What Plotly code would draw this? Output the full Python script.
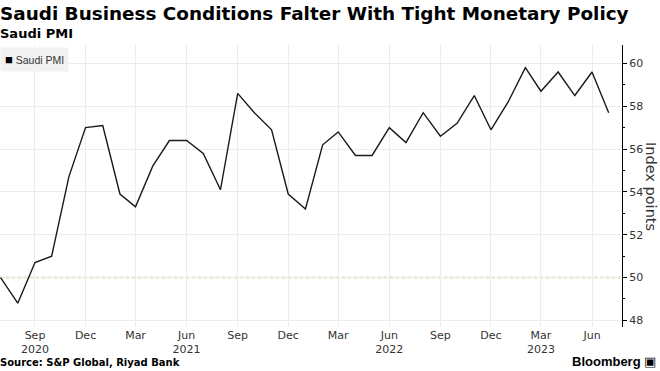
import plotly.graph_objects as go

months = ["2020-07", "2020-08", "2020-09", "2020-10", "2020-11", "2020-12",
          "2021-01", "2021-02", "2021-03", "2021-04", "2021-05", "2021-06",
          "2021-07", "2021-08", "2021-09", "2021-10", "2021-11", "2021-12",
          "2022-01", "2022-02", "2022-03", "2022-04", "2022-05", "2022-06",
          "2022-07", "2022-08", "2022-09", "2022-10", "2022-11", "2022-12",
          "2023-01", "2023-02", "2023-03", "2023-04", "2023-05", "2023-06",
          "2023-07"]
pmi = [50.0, 48.8, 50.7, 51.0, 54.7, 57.0,
       57.1, 53.9, 53.3, 55.2, 56.4, 56.4,
       55.8, 54.1, 58.6, 57.7, 56.9, 53.9,
       53.2, 56.2, 56.8, 55.7, 55.7, 57.0,
       56.3, 57.7, 56.6, 57.2, 58.5, 56.9,
       58.2, 59.8, 58.7, 59.6, 58.5, 59.6,
       57.7]
tick_dates = ["2020-09-01", "2020-12-01", "2021-03-01", "2021-06-01", "2021-09-01",
              "2021-12-01", "2022-03-01", "2022-06-01", "2022-09-01", "2022-12-01",
              "2023-03-01", "2023-06-01"]
tick_labels = ["Sep<br>2020", "Dec", "Mar", "Jun<br>2021", "Sep", "Dec", "Mar",
               "Jun<br>2022", "Sep", "Dec", "Mar<br>2023", "Jun"]
y_ticks = [48, 50, 52, 54, 56, 58, 60]
threshold = 50

x = [m + "-01" for m in months]

fig = go.Figure()
fig.add_trace(go.Scatter(x=x, y=pmi, mode="lines", name="Saudi PMI",
                         line=dict(color="#1a1a1a", width=1.4), showlegend=False))

fig.add_shape(type="line", xref="paper", x0=0, x1=1, yref="y", y0=threshold, y1=threshold,
              line=dict(color="#8fc424", width=1.6, dash="dot"), layer="below")

tick_font = dict(family="DejaVu Sans, sans-serif", size=11, color="#333333")

fig.update_layout(
    width=660, height=371,
    margin=dict(l=0, r=38, t=45, b=44),
    paper_bgcolor="white", plot_bgcolor="white",
    xaxis=dict(type="date", range=["2020-06-30", "2023-07-25"],
               tickvals=tick_dates, ticktext=tick_labels,
               showgrid=True, gridcolor="#ececec", gridwidth=1,
               showline=False, zeroline=False, ticks="", tickfont=tick_font,
               ticklabelstandoff=0),
    yaxis=dict(side="right", range=[47.69, 60.86], tickvals=y_ticks,
               showgrid=True, gridcolor="#ececec", gridwidth=1,
               showline=True, linecolor="#000000", linewidth=1,
               ticks="outside", ticklen=4, tickcolor="#000000",
               minor=dict(dtick=1, tick0=47, ticks="outside", ticklen=2, tickcolor="#000000", showgrid=False),
               zeroline=False, tickfont=tick_font, automargin=False),
    showlegend=False,
)

fig.add_annotation(xref="paper", yref="paper", x=1, xanchor="center", xshift=29, y=0.5,
                   yanchor="middle", text="Index points",
                   textangle=90, showarrow=False,
                   font=dict(family="DejaVu Sans, sans-serif", size=14.5, color="#333333"))

# legend box
fig.add_annotation(xref="paper", yref="paper", x=0, y=1, xanchor="left", yanchor="top",
                   yshift=-2, text="<span style='color:#000;font-size:13px'>■</span> Saudi PMI", showarrow=False,
                   bgcolor="#f2f2f2", borderpad=4,
                   font=dict(family="Liberation Sans, Arial, sans-serif", size=10.5, color="#333333"))

fig.add_annotation(xref="paper", yref="paper", x=0, y=1, yanchor="bottom", xanchor="left",
                   text="<b>Saudi Business Conditions Falter With Tight Monetary Policy</b>",
                   showarrow=False, yshift=19, xshift=-2,
                   font=dict(family="DejaVu Sans, sans-serif", size=18.4, color="#000000"))
fig.add_annotation(xref="paper", yref="paper", x=0, y=1, yanchor="bottom", xanchor="left",
                   text="<b>Saudi PMI</b>", showarrow=False, yshift=2, xshift=-2,
                   font=dict(family="DejaVu Sans, sans-serif", size=13, color="#000000"))
fig.add_annotation(xref="paper", yref="paper", x=0, y=0, yanchor="top", xanchor="left",
                   text="<b>Source: S&P Global, Riyad Bank</b>", showarrow=False, yshift=-28, xshift=-2,
                   font=dict(family="DejaVu Sans, sans-serif", size=10, color="#000000"))
fig.add_annotation(xref="paper", yref="paper", x=1, y=0, yanchor="top", xanchor="right",
                   text="<b>Bloomberg</b> ▣", showarrow=False, yshift=-25, xshift=36,
                   font=dict(family="Liberation Sans, Arial, sans-serif", size=13, color="#000000"))

fig.write_html("out.html", config={"displayModeBar": False},
               post_script="document.body.style.margin='0';document.body.style.overflow='hidden';")
